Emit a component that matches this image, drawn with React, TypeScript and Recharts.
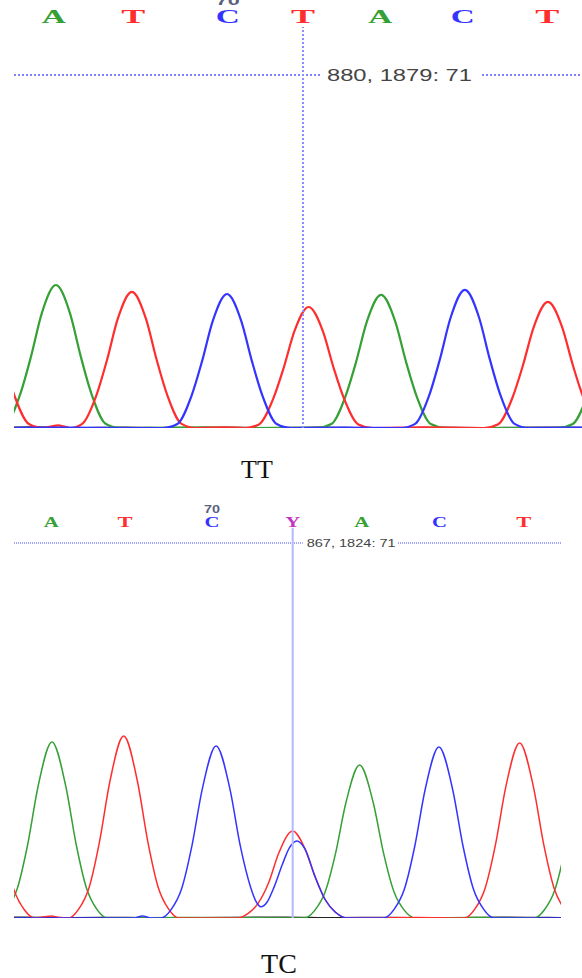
import React from 'react';
import { LineChart, Line, XAxis, YAxis, ReferenceLine, ReferenceDot } from 'recharts';

type Pt = [number, number];

// ---- top trace (TT) : scan number vs signal ----
const topDomain: [number, number] = [839.3, 919.3];
const topMax = 2134;
const topCursor = { scan: 880, signal: 1879, base: 71 };
const topCalls = ['A', 'T', 'C', 'T', 'A', 'C', 'T'];
const topCallPos = [844.9, 856.1, 869.4, 880, 890.9, 902.5, 914.4];

const topG: Pt[] = [[836, 2], [842, 5], [848, 1], [855, 4], [862, 0], [868, 3], [875, 1], [882, 4], [890, 0], [897, 3], [905, 1], [912, 4], [922, 2]];
const topA: Pt[] = [
  [834, 0], [836.2, 1], [838.2, 23], [840.2, 183], [841.7, 381], [843.2, 609], [845.2, 761], [847.2, 609], [848.7, 381], [850.2, 183], [852.2, 23], [854.2, 1],
  [856, 0], [866, 3], [872, 0], [882, 1], [884, 21], [886, 170], [887.5, 354], [889, 566], [891, 708], [893, 566], [894.5, 354], [896, 170], [898, 21], [900, 1],
  [902, 0], [914, 0], [916, 1], [918, 21], [920, 168], [921.5, 350], [923, 560],
];
const topT: Pt[] = [
  [830.4, 168], [832.4, 560], [834.4, 700], [836.4, 560], [837.9, 350], [839.4, 168], [841.4, 21], [843.4, 0], [844.5, 8], [845.5, 14], [846.5, 6], [847.2, 0],
  [848.9, 22], [850.9, 174], [852.4, 362], [853.9, 579], [855.9, 724], [857.9, 579], [859.4, 362], [860.9, 174], [862.9, 22], [864.9, 0], [869, 3], [871.8, 0],
  [873.8, 19], [875.8, 155], [877.3, 322], [878.8, 515], [880.8, 644], [882.8, 515], [884.3, 322], [885.8, 155], [887.8, 19], [889.8, 0], [897, 4], [905.5, 0],
  [907.5, 20], [909.5, 161], [911, 336], [912.5, 537], [914.5, 671], [916.5, 537], [918, 336], [919.5, 161], [921.5, 20], [923.5, 0],
];
const topC: Pt[] = [
  [830, 0], [845, 2], [858, 0], [860.3, 0], [862.3, 21], [864.3, 171], [865.8, 357], [867.3, 570], [869.3, 713], [871.3, 570], [872.8, 357], [874.3, 171],
  [876.3, 21], [878.3, 0], [886, 2], [893.8, 0], [895.8, 22], [897.8, 176], [899.3, 368], [900.8, 588], [902.8, 735], [904.8, 588], [906.3, 368], [907.8, 176],
  [909.8, 22], [911.8, 0], [918, 2], [924, 0],
];

// ---- bottom trace (TC) ----
const botDomain: [number, number] = [826.6, 905.9];
const botMax = 1897;
const botCursor = { scan: 867, signal: 1824, base: 71 };
const botCalls = ['A', 'T', 'C', 'Y', 'A', 'C', 'T'];
const botCallPos = [832.0, 842.7, 855.3, 867, 877.0, 888.3, 900.5];

const botG: Pt[] = [[820, 2], [828, 4], [835, 1], [843, 3], [850, 0], [858, 2], [866, 4], [873, 1], [881, 3], [889, 0], [897, 4], [904, 2], [912, 1]];
const botA: Pt[] = [
  [822, 0], [824.1, 0], [825.6, 43], [827.1, 146], [828.6, 360], [830.1, 642], [832.1, 856], [834.1, 642], [835.6, 360], [837.1, 146], [838.6, 43], [840.1, 0],
  [852, 2], [868.7, 0], [870.2, 37], [871.7, 126], [873.2, 312], [874.7, 558], [876.7, 744], [878.7, 558], [880.2, 312], [881.7, 126], [883.2, 37], [884.7, 0],
  [894, 2], [902, 0], [903.5, 40], [905, 136], [906.5, 336], [908, 600], [910, 800],
];
const botT: Pt[] = [
  [817.6, 336], [819.6, 600], [821.6, 800], [823.6, 600], [825.1, 336], [826.6, 136], [828.1, 40], [829.6, 0], [831, 6], [832, 10], [833, 4], [834.5, 0],
  [836, 44], [837.5, 150], [839, 372], [840.5, 664], [842.5, 885], [844.5, 664], [846, 372], [847.5, 150], [849, 44], [850.5, 0], [859, 0],
  [860.5, 21], [862, 72], [863.5, 170], [865, 317], [867, 423], [868.8, 335], [870.2, 205], [871.7, 90], [873.2, 28], [875, 0], [885, 3], [891.9, 0],
  [893.4, 43], [894.9, 145], [896.4, 357], [897.9, 638], [899.9, 851], [901.9, 638], [903.4, 357], [904.9, 145], [906.4, 43], [907.9, 0],
];
const botC: Pt[] = [
  [820, 0], [844, 0], [845.2, 10], [846.5, 0], [847.9, 0], [849.4, 42], [850.9, 142], [852.4, 352], [853.9, 628], [855.9, 837], [857.9, 628], [859.4, 352],
  [860.9, 150], [861.7, 80], [862.4, 55], [863.3, 78], [864.3, 150], [865.5, 260], [866.5, 340], [867.6, 375], [868.8, 335], [870.2, 205], [871.7, 90],
  [873.2, 28], [875, 0], [880.2, 0], [881.7, 42], [883.2, 141], [884.7, 349], [886.2, 624], [888.2, 832], [890.2, 624], [891.7, 349], [893.2, 141],
  [894.7, 42], [896.2, 0], [910, 0],
];

const BASE_COLORS: Record<string, string> = {
  A: '#35a035',
  T: '#ff2e2e',
  C: '#3434ff',
  G: '#222222',
  Y: '#c233c2',
};

const toPts = (arr: Pt[]) => arr.map(([s, v]) => ({ s, v }));

// letter drawn above the plot top, anchored on the called scan
const BaseLabel = (props: any) => {
  const { viewBox, letter, showNum, dy, fontSize, glyphW, numDy, numSize, numW } = props;
  const x = viewBox.x + viewBox.width / 2;
  const y = viewBox.y + viewBox.height / 2;
  return (
    <g>
      <text
        x={x}
        y={y + dy}
        textAnchor="middle"
        fontFamily="'Liberation Serif', serif"
        fontWeight="bold"
        fontSize={fontSize}
        textLength={glyphW}
        lengthAdjust="spacingAndGlyphs"
        fill={BASE_COLORS[letter]}
      >
        {letter}
      </text>
      {showNum && (
        <text
          x={x}
          y={y + numDy}
          textAnchor="middle"
          fontFamily="'Liberation Sans', sans-serif"
          fontWeight="bold"
          fontSize={numSize}
          textLength={numW}
          lengthAdjust="spacingAndGlyphs"
          fill="#5a5f80"
        >
          70
        </text>
      )}
    </g>
  );
};

const CursorLabel = (props: any) => {
  const { viewBox, text, dx, fontSize, textW, boxL, boxR, boxH } = props;
  const cx = viewBox.x + viewBox.width / 2;
  const cy = viewBox.y + viewBox.height / 2;
  return (
    <g>
      <rect x={cx + boxL} y={cy - boxH / 2} width={boxR - boxL} height={boxH} fill="#ffffff" />
      <text
        x={cx + dx}
        y={cy + fontSize * 0.36}
        fontFamily="'Liberation Sans', Arial, sans-serif"
        fontSize={fontSize}
        textLength={textW}
        lengthAdjust="spacingAndGlyphs"
        fill="#444444"
      >
        {text}
      </text>
    </g>
  );
};

type PanelProps = {
  width: number;
  height: number;
  margin: { top: number; right: number; bottom: number; left: number };
  domain: [number, number];
  yMax: number;
  traces: { key: string; data: Pt[] }[];
  strokeW: number;
  calls: string[];
  callPos: number[];
  callCfg: any;
  cursor: { scan: number; signal: number; base: number };
  vStroke: { color: string; dash?: string; width: number };
  hStroke: { color: string; dash: string; width: number };
  labelCfg: any;
};

const Panel = (p: PanelProps) => (
  <LineChart width={p.width} height={p.height} margin={p.margin}>
    <XAxis type="number" dataKey="s" domain={p.domain} allowDataOverflow hide />
    <YAxis type="number" domain={[0, p.yMax]} allowDataOverflow hide />
    {p.traces.map((t) => (
      <Line
        key={t.key}
        data={toPts(t.data)}
        dataKey="v"
        type="monotone"
        stroke={BASE_COLORS[t.key]}
        strokeWidth={t.key === 'G' ? 1.5 : p.strokeW}
        dot={false}
        activeDot={false}
        isAnimationActive={false}
      />
    ))}
    <ReferenceLine
      y={p.cursor.signal}
      stroke={p.hStroke.color}
      strokeDasharray={p.hStroke.dash}
      strokeWidth={p.hStroke.width}
    />
    <ReferenceLine
      x={p.cursor.scan}
      stroke={p.vStroke.color}
      strokeDasharray={p.vStroke.dash}
      strokeWidth={p.vStroke.width}
    />
    <ReferenceDot
      x={p.cursor.scan}
      y={p.cursor.signal}
      r={0}
      fill="none"
      stroke="none"
      label={<CursorLabel text={`${p.cursor.scan}, ${p.cursor.signal}: ${p.cursor.base}`} {...p.labelCfg} />}
    />
    {p.callPos.map((pos, i) => (
      <ReferenceDot
        key={`call-${i}`}
        x={pos}
        y={p.yMax}
        r={0}
        fill="none"
        stroke="none"
        ifOverflow="visible"
        label={<BaseLabel letter={p.calls[i]} showNum={i === 2} {...p.callCfg} />}
      />
    ))}
  </LineChart>
);

export default function App() {
  return (
    <div style={{ position: 'absolute', left: 0, top: 0, width: 582, height: 978, background: '#fff', overflow: 'hidden' }}>
      <div style={{ position: 'absolute', left: 0, top: 0 }}>
        <Panel
          width={582}
          height={440}
          margin={{ top: 27, right: 0, bottom: 12, left: 14 }}
          domain={topDomain}
          yMax={topMax}
          traces={[
            { key: 'G', data: topG },
            { key: 'A', data: topA },
            { key: 'T', data: topT },
            { key: 'C', data: topC },
          ]}
          strokeW={2.2}
          calls={topCalls}
          callPos={topCallPos}
          callCfg={{ dy: -4, fontSize: 18, glyphW: 24, numDy: -22, numSize: 13, numW: 24 }}
          cursor={topCursor}
          vStroke={{ color: '#8c8cff', dash: '2 2', width: 2 }}
          hStroke={{ color: '#8080ff', dash: '2 2', width: 2 }}
          labelCfg={{ dx: 24, fontSize: 16, textW: 145, boxL: 18, boxR: 178, boxH: 14 }}
        />
      </div>
      <svg style={{ position: 'absolute', left: 0, top: 440 }} width={582} height={50}>
        <text x={257} y={38} textAnchor="middle" fontFamily="'Liberation Serif', serif" fontSize={26} fill="#111">
          TT
        </text>
      </svg>
      <div style={{ position: 'absolute', left: 0, top: 490 }}>
        <Panel
          width={582}
          height={440}
          margin={{ top: 38, right: 21, bottom: 12, left: 14 }}
          domain={botDomain}
          yMax={botMax}
          traces={[
            { key: 'G', data: botG },
            { key: 'A', data: botA },
            { key: 'T', data: botT },
            { key: 'C', data: botC },
          ]}
          strokeW={1.5}
          calls={botCalls}
          callPos={botCallPos}
          callCfg={{ dy: -1, fontSize: 14, glyphW: 15, numDy: -15, numSize: 11, numW: 16 }}
          cursor={botCursor}
          vStroke={{ color: '#b4b8ff', width: 2 }}
          hStroke={{ color: '#a0a4ff', dash: '1 1', width: 2 }}
          labelCfg={{ dx: 14, fontSize: 11, textW: 89, boxL: 10, boxR: 105, boxH: 10 }}
        />
      </div>
      <svg style={{ position: 'absolute', left: 0, top: 930 }} width={582} height={48}>
        <text x={279} y={43} textAnchor="middle" fontFamily="'Liberation Serif', serif" fontSize={28} fill="#111">
          TC
        </text>
      </svg>
    </div>
  );
}
